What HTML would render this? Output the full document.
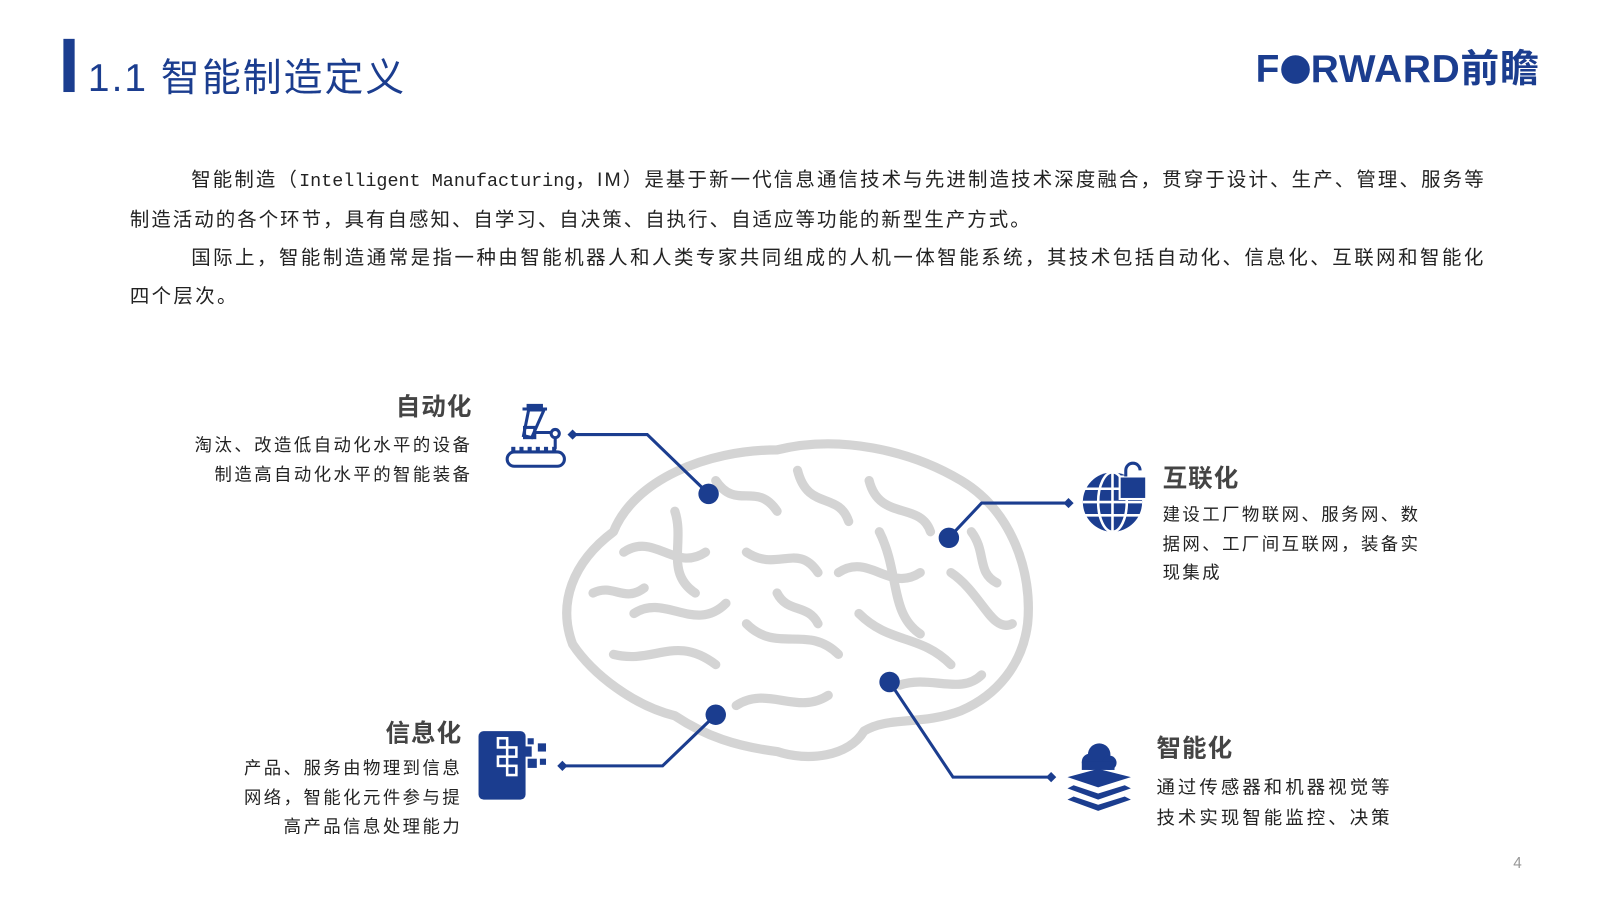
<!DOCTYPE html>
<html><head><meta charset="utf-8"><style>
body{margin:0;width:1600px;height:900px;background:#fff;overflow:hidden;font-family:"Liberation Sans","Noto Sans CJK SC",sans-serif;color:#222}
#w{position:absolute;left:0;top:0;width:1600px;height:900px;transform:scale(1.0225);transform-origin:0 0}
.a{position:absolute}
.p{position:absolute;left:127px;width:1326px;font-size:19px;line-height:38px;text-align:justify;color:#222;letter-spacing:2px}
.h{font-size:24px;font-weight:bold;color:#444;letter-spacing:1px}
.d{font-size:17px;line-height:28.5px;color:#222;letter-spacing:2.4px}
</style></head><body><div id="w">
<div class="a" style="left:62px;top:38px;width:11px;height:52px;background:#1b3d8f"></div>
<div class="a" style="left:86px;top:45px;font-size:38px;color:#1b3d8f;letter-spacing:2px">1.1 智能制造定义</div>
<div class="a" style="left:1228px;top:46px;font-size:38px;font-weight:bold;color:#1b3d8f;letter-spacing:0.7px;line-height:44px">F<span style="display:inline-block;width:28px;height:28px;border-radius:50%;background:#1b3d8f;vertical-align:-2px;margin:0 1px"></span>RWARD前瞻</div>

<div class="p" style="top:158px;text-indent:60px">智能制造（<span style="font-family:'Liberation Mono',monospace;font-size:18px;letter-spacing:0">Intelligent Manufacturing</span>，IM）是基于新一代信息通信技术与先进制造技术深度融合，贯穿于设计、生产、管理、服务等制造活动的各个环节，具有自感知、自学习、自决策、自执行、自适应等功能的新型生产方式。</div>
<div class="p" style="top:234px;text-indent:60px;letter-spacing:2.3px">国际上，智能制造通常是指一种由智能机器人和人类专家共同组成的人机一体智能系统，其技术包括自动化、信息化、互联网和智能化四个层次。</div>

<svg class="a" style="left:0;top:0" width="1600" height="900">
<g fill="none" stroke="#d4d4d4" stroke-width="9" stroke-linecap="round" stroke-linejoin="round">
<path d="M600,520 C620,470 690,440 760,440 C820,425 890,440 940,470 C990,500 1010,560 1005,610 C1000,650 975,680 940,695 C900,710 870,700 845,715 C830,740 790,745 760,735 C720,730 690,720 660,700 C620,690 580,660 560,630 C545,590 560,550 600,520 Z"/>
<path d="M610,540 C640,520 660,560 690,540 M700,470 C720,500 740,470 760,500 M780,460 C790,500 820,480 830,510 M850,470 C860,510 900,490 910,520 M620,600 C650,580 680,620 710,590 M730,540 C760,560 780,530 800,560 M820,560 C850,540 870,580 900,560 M930,560 C960,580 970,620 990,610 M600,640 C640,650 660,620 700,650 M730,610 C760,640 790,610 820,640 M840,600 C870,630 900,620 930,650 M720,690 C750,670 780,700 810,680 M880,670 C910,660 940,680 960,660 M660,500 C670,530 650,560 680,580 M860,520 C880,560 870,600 900,620 M580,580 C600,570 610,590 630,575 M760,580 C770,600 790,590 800,610 M950,520 C965,540 955,560 975,570"/>
</g>
<g stroke="#1b3d8f" stroke-width="3" fill="none">
<path d="M560,425 H633 L693,483"/>
<path d="M1045,492 H960 L928,526"/>
<path d="M550,749 H648 L700,699"/>
<path d="M1028,760 H932 L870,667"/>
</g>
<g fill="#1b3d8f">
<circle cx="693" cy="483" r="10"/><circle cx="928" cy="526" r="10"/><circle cx="700" cy="699" r="10"/><circle cx="870" cy="667" r="10"/>
<path d="M555,425 l5,-5 5,5 -5,5z"/><path d="M1050,492 l-5,-5 -5,5 5,5z"/><path d="M545,749 l5,-5 5,5 -5,5z"/><path d="M1033,760 l-5,-5 -5,5 5,5z"/>
</g>
<g stroke="#1b3d8f" stroke-width="3" fill="none">
<path d="M511,400 H535 M517,401 L532,401 L520,428 L512,426 Z"/><rect x="513" y="418" width="10" height="10"/><path d="M523,423 H540"/><circle cx="543" cy="424" r="4"/><path d="M543,428 V439"/>
<rect x="496" y="442" width="56" height="14" rx="7"/>
</g>
<g fill="#1b3d8f"><rect x="515" y="395" width="16" height="5"/><rect x="500" y="437" width="4" height="5"/><rect x="508" y="437" width="4" height="5"/><rect x="516" y="437" width="4" height="5"/><rect x="524" y="437" width="4" height="5"/><rect x="532" y="437" width="4" height="5"/><rect x="540" y="437" width="4" height="5"/></g>
<circle cx="1088" cy="491" r="29" fill="#1b3d8f"/>
<g stroke="#fff" stroke-width="2.5" fill="none"><path d="M1059,478 H1117 M1059,491 H1117 M1061,504 H1115 M1088,462 V520"/><ellipse cx="1088" cy="491" rx="14" ry="29"/></g>
<rect x="1095" y="466" width="26" height="22" fill="#1b3d8f" stroke="#fff" stroke-width="2"/><path d="M1101,466 v-6 a7,7 0 0 1 14,0" stroke="#1b3d8f" stroke-width="3" fill="none"/>
<rect x="468" y="715" width="46" height="67" rx="5" fill="#1b3d8f"/>
<g fill="#1b3d8f"><rect x="516" y="722" width="6" height="6"/><rect x="526" y="727" width="8" height="8"/><rect x="516" y="742" width="9" height="9"/><rect x="528" y="742" width="6" height="6"/><rect x="512" y="730" width="8" height="10"/></g>
<g stroke="#fff" stroke-width="2.5" fill="none"><rect x="487" y="722" width="9" height="9"/><rect x="496" y="731" width="9" height="9"/><rect x="487" y="740" width="9" height="9"/><rect x="496" y="749" width="9" height="9"/></g>
<g fill="#1b3d8f"><circle cx="1066" cy="745" r="8"/><circle cx="1075" cy="738" r="11"/><circle cx="1085" cy="746" r="7"/><rect x="1058" y="745" width="32" height="8"/>
<path d="M1044,760 L1074,752 L1106,760 L1074,770Z"/><path d="M1044,771 L1050,768 L1074,776 L1100,768 L1106,771 L1074,782Z"/><path d="M1044,782 L1050,779 L1074,787 L1100,779 L1106,782 L1074,793Z"/></g>
</svg>

<div class="a h" style="left:360px;top:378px;width:102px;text-align:right">自动化</div>
<div class="a d" style="left:120px;top:422px;width:342px;text-align:right">淘汰、改造低自动化水平的设备<br>制造高自动化水平的智能装备</div>
<div class="a h" style="left:1137px;top:448px">互联化</div>
<div class="a d" style="left:1137px;top:490px;width:262px">建设工厂物联网、服务网、数据网、工厂间互联网，装备实现集成</div>
<div class="a h" style="left:350px;top:697px;width:102px;text-align:right">信息化</div>
<div class="a d" style="left:180px;top:738px;width:272px;text-align:right">产品、服务由物理到信息<br>网络，智能化元件参与提<br>高产品信息处理能力</div>
<div class="a h" style="left:1131px;top:712px">智能化</div>
<div class="a d" style="left:1131px;top:755px;line-height:30px;font-size:18px;letter-spacing:3px">通过传感器和机器视觉等<br>技术实现智能监控、决策</div>
<div class="a" style="left:1480px;top:836px;font-size:15px;color:#999">4</div>
</div></body></html>
